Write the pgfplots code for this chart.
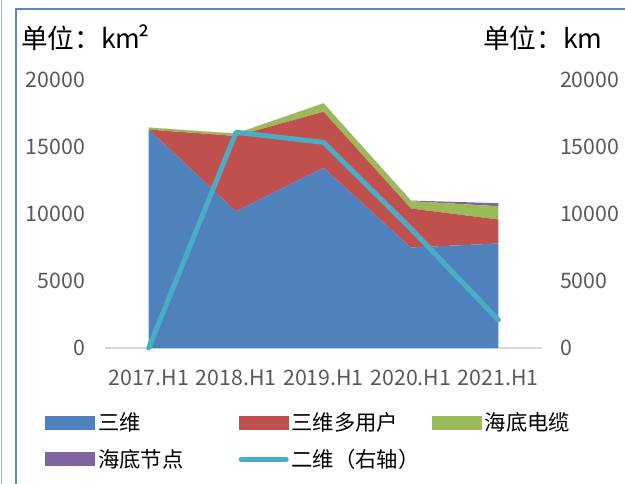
\documentclass[border=0pt]{standalone}
\usepackage{pgfplots}
\pgfplotsset{compat=1.18}
\usepackage{fontspec}
\setmainfont{Noto Sans CJK SC}
\definecolor{c1}{HTML}{4F81BD}
\definecolor{c2}{HTML}{C0504D}
\definecolor{c3}{HTML}{9BBB59}
\definecolor{c4}{HTML}{8064A2}
\definecolor{c5}{HTML}{4BACC6}
\definecolor{tickgray}{HTML}{595959}
\definecolor{basegray}{HTML}{D9D9D9}
\definecolor{frame}{HTML}{5B87C6}
\pgfplotsset{
  myarea/.style={legend image code/.code={\fill[##1,draw=none] (0pt,-5.25pt) rectangle (37.5pt,5.25pt);}},
  myline/.style={legend image code/.code={\draw[##1] (1.875pt,0pt) -- (35.625pt,0pt);}},
}
\newcommand{\fs}{\fontsize{16}{19}\selectfont}
\begin{document}
\begin{tikzpicture}[x=0.75pt,y=0.75pt]
\useasboundingbox (0,0) rectangle (625,483);
\draw[frame, line width=1.1pt] (16,-5) -- (16,474) -- (630,474);
\draw[frame!60, line width=1pt] (1.2,-5) -- (1.2,490);
\node[anchor=west, inner sep=0pt, font=\fontsize{20}{23}\selectfont] at (21,445) {单位：km\kern-2pt²};
\node[anchor=west, inner sep=0pt, font=\fontsize{20}{23}\selectfont] at (483,445) {单位：km};
\begin{axis}[
  at={(78.75pt,101.25pt)}, anchor=south west, scale only axis,
  width=327.75pt, height=201pt,
  xmin=-0.5, xmax=4.5, ymin=0, ymax=20000,
  axis x line*=bottom, axis y line*=left,
  x axis line style={draw=basegray, line width=1.1pt},
  y axis line style={draw=none},
  major tick length=0pt,
  scaled y ticks=false,
  xtick={0,1,2,3,4},
  xticklabels={2017.H1,2018.H1,2019.H1,2020.H1,2021.H1},
  ytick={0,5000,10000,15000,20000},
  yticklabels={0,5000,10000,15000,20000},
  ticklabel style={font=\fs, text=tickgray},
  yticklabel style={xshift=-11.5pt},
  xticklabel style={yshift=-13pt},
  stack plots=y,
  myarea,
  clip=false,
  legend columns=3,
  legend cell align=left,
  legend style={draw=none, fill=none, inner sep=0pt, font=\fs,
    at={(axis description cs:-0.137,-0.23)}, anchor=north west,
    row sep=8.5pt, column sep=0pt},
]
\addplot[fill=c1, draw=none] coordinates {(0,16300) (1,10200) (2,13450) (3,7500) (4,7800)} \closedcycle;
\addlegendentry{\makebox[103.5pt][l]{三维}}
\addplot[fill=c2, draw=none] coordinates {(0,0) (1,5620) (2,4180) (3,2910) (4,1790)} \closedcycle;
\addlegendentry{\makebox[103.5pt][l]{三维多用户}}
\addplot[fill=c3, draw=none] coordinates {(0,150) (1,180) (2,630) (3,545) (4,990)} \closedcycle;
\addlegendentry{\makebox[103.5pt][l]{海底电缆}}
\addplot[fill=c4, draw=none] coordinates {(0,0) (1,0) (2,0) (3,50) (4,225)} \closedcycle;
\addlegendentry{\makebox[103.5pt][l]{海底节点}}
\addlegendimage{myline, color=c5, line width=3.75pt, line cap=round}
\addlegendentry{\makebox[103.5pt][l]{二维（右轴）}}
\end{axis}
\begin{axis}[
  at={(78.75pt,101.25pt)}, anchor=south west, scale only axis,
  width=327.75pt, height=201pt,
  xmin=-0.5, xmax=4.5, ymin=0, ymax=20000,
  axis x line=none, axis y line*=right,
  y axis line style={draw=none},
  major tick length=0pt,
  scaled y ticks=false,
  ytick={0,5000,10000,15000,20000},
  yticklabels={0,5000,10000,15000,20000},
  ticklabel style={font=\fs, text=tickgray},
  yticklabel style={xshift=10pt},
  clip=false,
]
\addplot[color=c5, line width=3.75pt, line cap=round, line join=round] coordinates {(0,0) (1,16100) (2,15350) (3,8900) (4,2100)};
\end{axis}
\end{tikzpicture}
\end{document}
